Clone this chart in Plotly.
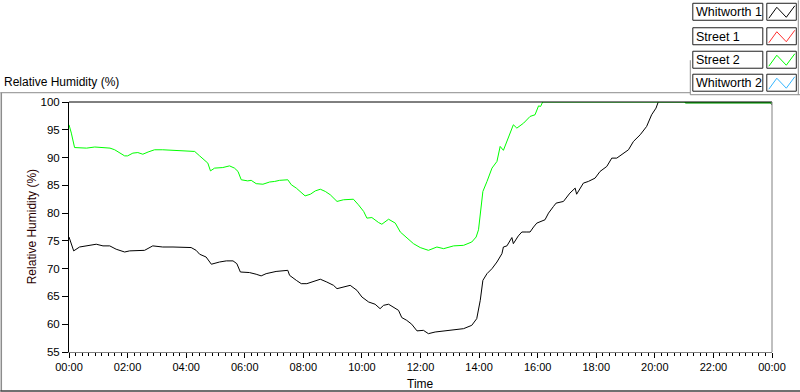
import plotly.graph_objects as go

# ---------------- data ----------------
green_hours = [0.0, 0.08, 0.19, 0.4, 0.6, 0.88, 1.1, 1.4, 1.56, 1.73, 1.9, 2.0, 2.18, 2.35, 2.52, 2.7,
               2.92, 3.2, 3.5, 3.89, 4.12, 4.29, 4.46, 4.63, 4.74, 4.83, 4.97, 5.25, 5.48, 5.65, 5.77,
               5.88, 6.1, 6.22, 6.39, 6.62, 6.85, 7.02, 7.19, 7.47, 7.59, 7.76, 7.93, 8.06, 8.24, 8.41,
               8.58, 8.75, 8.92, 9.15, 9.37, 9.71, 9.88, 10.06, 10.17, 10.34, 10.57, 10.68, 10.91, 11.14,
               11.31, 11.53, 11.76, 11.99, 12.27, 12.56, 12.79, 13.13, 13.47, 13.75, 13.9, 13.98, 14.06,
               14.13, 14.27, 14.44, 14.61, 14.72, 14.83, 15.0, 15.17, 15.29, 15.52, 15.74, 15.91, 16.03,
               16.1, 16.17, 21.0, 21.03, 24.0]
green_rh = [95.9, 94.4, 91.8, 91.7, 91.7, 91.9, 91.8, 91.7, 91.4, 90.9, 90.3, 90.3, 90.8, 90.9, 90.6, 91.0,
            91.4, 91.4, 91.3, 91.3, 91.1, 91.1, 90.3, 89.6, 89.0, 87.6, 88.1, 88.2, 88.5, 88.1, 87.5,
            86.0, 85.8, 85.9, 85.3, 85.2, 85.6, 85.7, 85.9, 86.0, 85.1, 84.5, 83.7, 83.1, 83.4, 84.0,
            84.3, 83.9, 83.3, 82.1, 82.4, 82.5, 81.5, 80.3, 79.1, 79.2, 78.3, 78.0, 78.9, 78.2,
            76.6, 75.6, 74.5, 73.8, 73.3, 73.9, 73.6, 74.1, 74.2, 74.8, 75.7, 77.0, 80.6,
            83.9, 85.7, 88.1, 89.3, 92.0, 91.3, 93.8, 95.9, 95.3, 96.2, 97.4, 97.7, 99.3,
            99.2, 100.0, 100.0, 99.85, 99.85]

black_hours = [0.0, 0.08, 0.16, 0.36, 0.59, 0.93, 1.16, 1.39, 1.61, 1.9, 2.07, 2.3, 2.58, 2.86, 3.2, 3.55,
               3.83, 4.17, 4.34, 4.46, 4.68, 4.86, 5.14, 5.37, 5.6, 5.73, 5.85, 6.16, 6.39, 6.56, 6.73,
               7.07, 7.47, 7.53, 7.76, 7.93, 8.12, 8.35, 8.58, 8.8, 9.03, 9.15, 9.37, 9.6, 9.83, 10.0,
               10.23, 10.45, 10.62, 10.74, 10.91, 11.08, 11.25, 11.36, 11.53, 11.7, 11.88, 12.1, 12.27,
               12.5, 12.79, 13.13, 13.47, 13.75, 13.92, 14.04, 14.13, 14.27, 14.44, 14.61, 14.78, 14.83,
               14.95, 15.12, 15.17, 15.34, 15.46, 15.63, 15.74, 15.86, 15.97, 16.25, 16.37, 16.54, 16.63,
               16.88, 17.1, 17.28, 17.33, 17.56, 17.73, 17.96, 18.13, 18.36, 18.53, 18.7, 18.93, 19.1,
               19.27, 19.5, 19.72, 19.89, 20.04, 20.12, 21.03, 21.05, 23.95, 24.0]
black_rh = [75.7, 74.5, 73.2, 73.9, 74.1, 74.4, 74.1, 74.1, 73.5, 73.0, 73.2, 73.3, 73.3, 74.1, 73.9, 73.9,
            73.9, 73.8, 73.3, 72.6, 72.1, 70.8, 71.2, 71.4, 71.4, 70.9, 69.4, 69.3, 69.0, 68.7, 69.1,
            69.5, 69.7, 68.8, 67.9, 67.3, 67.3, 67.7, 68.1, 67.6, 67.0, 66.4, 66.7, 67.0, 66.1, 64.9,
            64.0, 63.6, 62.8, 63.4, 63.6, 63.0, 62.5, 61.2, 60.7, 60.0, 58.8, 58.9, 58.3,
            58.6, 58.8, 59.0, 59.2, 59.8, 61.0, 64.3, 67.9, 69.1, 70.0, 71.2, 72.7, 73.9,
            74.1, 75.6, 74.5, 75.9, 76.6, 76.6, 76.6, 77.5, 78.2, 78.8, 80.0, 81.2, 81.8,
            82.1, 83.6, 84.5, 83.4, 85.4, 85.7, 86.3, 87.5, 88.4, 89.9, 89.9, 90.8, 91.4,
            92.9, 94.1, 95.6, 97.7, 98.9, 100.05, 100.05, 99.85, 99.85, 99.5]

series_names = ["Whitworth 1", "Street 1", "Street 2", "Whitworth 2"]
series_colors = ["#000000", "#ff3030", "#00ff00", "#33b5ff"]

tick_hours = [0, 2, 4, 6, 8, 10, 12, 14, 16, 18, 20, 22, 24]
tick_labels = ["00:00", "02:00", "04:00", "06:00", "08:00", "10:00", "12:00",
               "14:00", "16:00", "18:00", "20:00", "22:00", "00:00"]
y_ticks = [55, 60, 65, 70, 75, 80, 85, 90, 95, 100]

# ---------------- layout geometry (pixels) ----------------
W, H = 800, 392
L, R, T, B = 68.7, 771.7, 101.8, 352.0
PW, PH = R - L, B - T


def px(x):
    return (x - L) / PW


def py(y):
    return (B - y) / PH


FONT = "Liberation Sans, Arial, sans-serif"

fig = go.Figure()
fig.add_trace(go.Scatter(x=black_hours, y=black_rh, mode="lines", name=series_names[0],
                         line=dict(color=series_colors[0], width=1), showlegend=False))
fig.add_trace(go.Scatter(x=[], y=[], mode="lines", name=series_names[1],
                         line=dict(color=series_colors[1], width=1), showlegend=False))
fig.add_trace(go.Scatter(x=green_hours, y=green_rh, mode="lines", name=series_names[2],
                         line=dict(color=series_colors[2], width=1), showlegend=False))
fig.add_trace(go.Scatter(x=[], y=[], mode="lines", name=series_names[3],
                         line=dict(color=series_colors[3], width=1), showlegend=False))

shapes = []
annotations = []

# plot frame: top black, right gray
shapes.append(dict(type="line", xref="paper", yref="paper", x0=0, x1=1, y0=1, y1=1,
                   line=dict(color="black", width=1)))
shapes.append(dict(type="line", xref="paper", yref="paper", x0=1, x1=1, y0=0, y1=1,
                   line=dict(color="#808080", width=1)))

# panel borders
GRAY = "#8c8c8c"
shapes.append(dict(type="line", xref="paper", yref="paper", x0=px(0), x1=px(690), y0=py(92.5), y1=py(92.5),
                   line=dict(color=GRAY, width=1)))
shapes.append(dict(type="line", xref="paper", yref="paper", x0=px(1), x1=px(1), y0=py(92.5), y1=py(391),
                   line=dict(color=GRAY, width=1.5)))
shapes.append(dict(type="line", xref="paper", yref="paper", x0=px(0), x1=px(800), y0=py(391), y1=py(391),
                   line=dict(color="#404040", width=1.5)))
shapes.append(dict(type="line", xref="paper", yref="paper", x0=px(690), x1=px(690), y0=py(60), y1=py(94.5),
                   line=dict(color=GRAY, width=1)))
shapes.append(dict(type="line", xref="paper", yref="paper", x0=px(690), x1=px(800), y0=py(94.5), y1=py(94.5),
                   line=dict(color=GRAY, width=1)))
shapes.append(dict(type="line", xref="paper", yref="paper", x0=px(798), x1=px(798), y0=py(0), y1=py(94.5),
                   line=dict(color=GRAY, width=1)))

# custom legend
row_tops = [3, 27.5, 51, 74]
box_h = 17
for name, color, top in zip(series_names, series_colors, row_tops):
    shapes.append(dict(type="rect", xref="paper", yref="paper",
                       x0=px(692.5), x1=px(762.5), y0=py(top), y1=py(top + box_h),
                       line=dict(color="#202020", width=1), fillcolor="white"))
    shapes.append(dict(type="rect", xref="paper", yref="paper",
                       x0=px(766.5), x1=px(796), y0=py(top), y1=py(top + box_h),
                       line=dict(color="#202020", width=1), fillcolor="white"))
    pts = [(768.5, top + 15), (776.5, top + 4), (786, top + 14), (794.5, top + 2.5)]
    path = "M " + " L ".join(f"{px(a):.5f},{py(b):.5f}" for a, b in pts)
    shapes.append(dict(type="path", xref="paper", yref="paper", path=path,
                       line=dict(color=color, width=1)))
    annotations.append(dict(text=name, xref="paper", yref="paper", x=px(693.5), y=py(top + box_h / 2 + 0.5),
                            xanchor="left", yanchor="middle", showarrow=False,
                            font=dict(family=FONT, size=12.5, color="#000000")))

# titles
annotations.append(dict(text="Relative Humidity (%)", xref="paper", yref="paper", x=px(2), y=py(82),
                        xanchor="left", yanchor="middle", showarrow=False,
                        font=dict(family=FONT, size=12, color="#000000")))
annotations.append(dict(text="Relative Humidity (%)", xref="paper", yref="paper", x=px(32), y=0.5,
                        xanchor="center", yanchor="middle", showarrow=False, textangle=-90,
                        font=dict(family=FONT, size=12, color="#2a0000")))
annotations.append(dict(text="Time", xref="paper", yref="paper", x=0.5, y=py(384.5),
                        xanchor="center", yanchor="middle", showarrow=False,
                        font=dict(family=FONT, size=12, color="#000000")))

fig.update_layout(
    width=W, height=H,
    margin=dict(l=L, r=W - R, t=T, b=H - B, pad=0),
    paper_bgcolor="white", plot_bgcolor="white",
    showlegend=False,
    shapes=shapes, annotations=annotations,
    xaxis=dict(range=[0, 24], tickvals=tick_hours, ticktext=tick_labels,
               showgrid=False, zeroline=False, showline=True, linecolor="#808080", linewidth=1,
               ticks="outside", ticklen=5, tickcolor="black", tickwidth=1,
               minor=dict(ticks="outside", ticklen=3, dtick=2 / 9, tick0=0, tickcolor="black",
                          tickwidth=1, showgrid=False),
               tickfont=dict(family=FONT, size=11, color="black")),
    yaxis=dict(range=[55, 100], tickvals=y_ticks,
               showgrid=False, zeroline=False, showline=True, linecolor="black", linewidth=1,
               ticks="outside", ticklen=6, tickcolor="black", tickwidth=1,
               tickfont=dict(family=FONT, size=11.5, color="black")),
)

fig.write_html("out.html", config={"displayModeBar": False, "staticPlot": True},
               post_script="document.body.style.margin='0';document.body.style.overflow='hidden';")
